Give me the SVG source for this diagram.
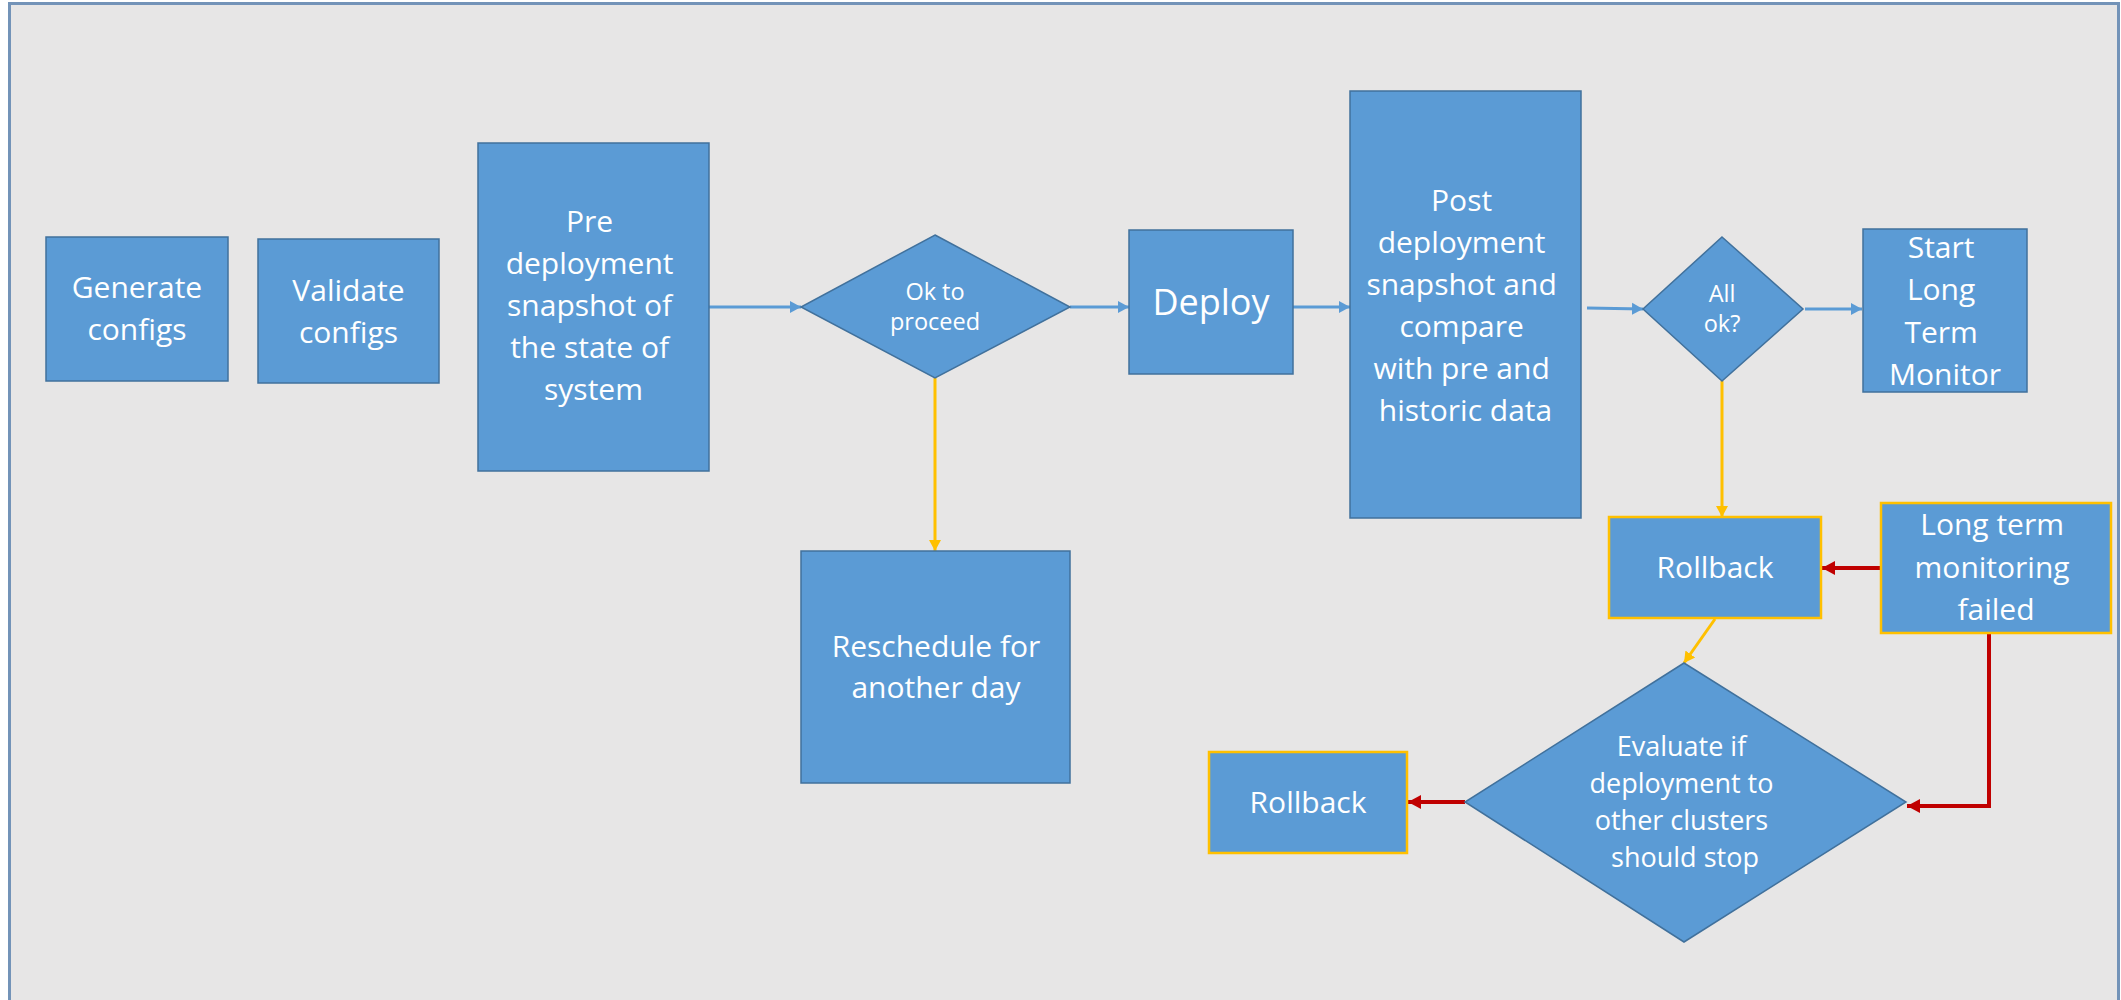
<svg xmlns="http://www.w3.org/2000/svg" width="2121" height="1000" viewBox="0 0 2121 1000">
  <defs>
    <style>
      .box { fill: #5B9BD5; stroke: #41719C; stroke-width: 1.5; }
      .alert { fill: #5B9BD5; stroke: #FFC000; stroke-width: 2.5; }
      .lbl { font-family: "Open Sans", "Liberation Sans", sans-serif; fill: #FFFFFF; text-anchor: middle; font-size: 30px; }
      .sm { font-size: 23.5px; }
      .md { font-size: 27px; }
      .lg { font-size: 36px; }
      .flow { fill: none; stroke: #5B9BD5; stroke-width: 3; }
      .warn { fill: none; stroke: #FFC000; stroke-width: 3; }
      .fail { fill: none; stroke: #C00000; stroke-width: 4; }
    </style>
    <marker id="ahBlue" markerUnits="userSpaceOnUse" markerWidth="12" markerHeight="14" refX="11" refY="7" orient="auto">
      <path d="M0,1 L11,7 L0,13 Z" fill="#5B9BD5"/>
    </marker>
    <marker id="ahYellow" markerUnits="userSpaceOnUse" markerWidth="12" markerHeight="14" refX="11" refY="7" orient="auto">
      <path d="M0,1 L11,7 L0,13 Z" fill="#FFC000"/>
    </marker>
    <marker id="ahRed" markerUnits="userSpaceOnUse" markerWidth="14" markerHeight="16" refX="13" refY="8" orient="auto">
      <path d="M0,1 L13,8 L0,15 Z" fill="#C00000"/>
    </marker>
  </defs>

  <!-- page and frame -->
  <rect x="0" y="0" width="2121" height="1000" fill="#FFFFFF"/>
  <rect x="9" y="3" width="2109" height="997" fill="#E7E6E6"/>
  <path d="M9.5,1000 V3.5 H2118.5 V1000" fill="none" stroke="#7393B8" stroke-width="3"/>

  <!-- connectors -->
  <g id="connectors">
    <line class="flow" x1="709" y1="307" x2="801" y2="307" marker-end="url(#ahBlue)"/>
    <line class="flow" x1="1070" y1="307" x2="1129" y2="307" marker-end="url(#ahBlue)"/>
    <line class="flow" x1="1293" y1="307" x2="1350" y2="307" marker-end="url(#ahBlue)"/>
    <line class="flow" x1="1587" y1="308" x2="1643" y2="309" marker-end="url(#ahBlue)"/>
    <line class="flow" x1="1805" y1="309" x2="1862" y2="309" marker-end="url(#ahBlue)"/>
    <line class="warn" x1="935" y1="378" x2="935" y2="551" marker-end="url(#ahYellow)"/>
    <line class="warn" x1="1722" y1="381" x2="1722" y2="517" marker-end="url(#ahYellow)"/>
    <line class="warn" x1="1715" y1="619" x2="1684" y2="663" marker-end="url(#ahYellow)"/>
    <line class="fail" x1="1881" y1="568" x2="1822" y2="568" marker-end="url(#ahRed)"/>
    <polyline class="fail" points="1989,633 1989,806 1907,806" marker-end="url(#ahRed)"/>
    <line class="fail" x1="1465" y1="802" x2="1408" y2="802" marker-end="url(#ahRed)"/>
  </g>

  <!-- nodes -->
  <g id="generate-configs">
    <rect class="box" x="46" y="237" width="182" height="144"/>
    <text class="lbl"><tspan x="137" y="298">Generate</tspan><tspan x="137" y="340">configs</tspan></text>
  </g>
  <g id="validate-configs">
    <rect class="box" x="258" y="239" width="181" height="144"/>
    <text class="lbl"><tspan x="348.5" y="301">Validate</tspan><tspan x="348.5" y="343">configs</tspan></text>
  </g>
  <g id="pre-snapshot">
    <rect class="box" x="478" y="143" width="231" height="328"/>
    <text class="lbl">
      <tspan x="593.5" y="232">Pre</tspan>
      <tspan x="593.5" y="274">deployment</tspan>
      <tspan x="593.5" y="316">snapshot of</tspan>
      <tspan x="593.5" y="358">the state of</tspan>
      <tspan x="593.5" y="400">system</tspan>
    </text>
  </g>
  <g id="ok-to-proceed">
    <polygon class="box" points="935,235 1070,307 935,378 801,307"/>
    <text class="lbl sm"><tspan x="935" y="300">Ok to</tspan><tspan x="935" y="330">proceed</tspan></text>
  </g>
  <g id="reschedule">
    <rect class="box" x="801" y="551" width="269" height="232"/>
    <text class="lbl"><tspan x="936" y="657">Reschedule for</tspan><tspan x="936" y="698">another day</tspan></text>
  </g>
  <g id="deploy">
    <rect class="box" x="1129" y="230" width="164" height="144"/>
    <text class="lbl lg" x="1211" y="315">Deploy</text>
  </g>
  <g id="post-snapshot">
    <rect class="box" x="1350" y="91" width="231" height="427"/>
    <text class="lbl">
      <tspan x="1465.5" y="211">Post</tspan>
      <tspan x="1465.5" y="253">deployment</tspan>
      <tspan x="1465.5" y="295">snapshot and</tspan>
      <tspan x="1465.5" y="337">compare</tspan>
      <tspan x="1465.5" y="379">with pre and</tspan>
      <tspan x="1465.5" y="421">historic data</tspan>
    </text>
  </g>
  <g id="all-ok">
    <polygon class="box" points="1722,237 1803,309 1722,381 1643,309"/>
    <text class="lbl sm"><tspan x="1722" y="302">All</tspan><tspan x="1722" y="332">ok?</tspan></text>
  </g>
  <g id="start-monitor">
    <rect class="box" x="1863" y="229" width="164" height="163"/>
    <text class="lbl">
      <tspan x="1945" y="258">Start</tspan>
      <tspan x="1945" y="300">Long</tspan>
      <tspan x="1945" y="343">Term</tspan>
      <tspan x="1945" y="385">Monitor</tspan>
    </text>
  </g>
  <g id="rollback-cluster">
    <rect class="alert" x="1609" y="517" width="212" height="101"/>
    <text class="lbl" x="1715" y="578">Rollback</text>
  </g>
  <g id="monitor-failed">
    <rect class="alert" x="1881" y="503" width="230" height="130"/>
    <text class="lbl">
      <tspan x="1996" y="535">Long term</tspan>
      <tspan x="1996" y="578">monitoring</tspan>
      <tspan x="1996" y="620">failed</tspan>
    </text>
  </g>
  <g id="evaluate-stop">
    <polygon class="box" points="1684,663 1906,802 1684,942 1465,802"/>
    <text class="lbl md">
      <tspan x="1685" y="756">Evaluate if</tspan>
      <tspan x="1685" y="793">deployment to</tspan>
      <tspan x="1685" y="830">other clusters</tspan>
      <tspan x="1685" y="867">should stop</tspan>
    </text>
  </g>
  <g id="rollback-all">
    <rect class="alert" x="1209" y="752" width="198" height="101"/>
    <text class="lbl" x="1308" y="813">Rollback</text>
  </g>
</svg>
